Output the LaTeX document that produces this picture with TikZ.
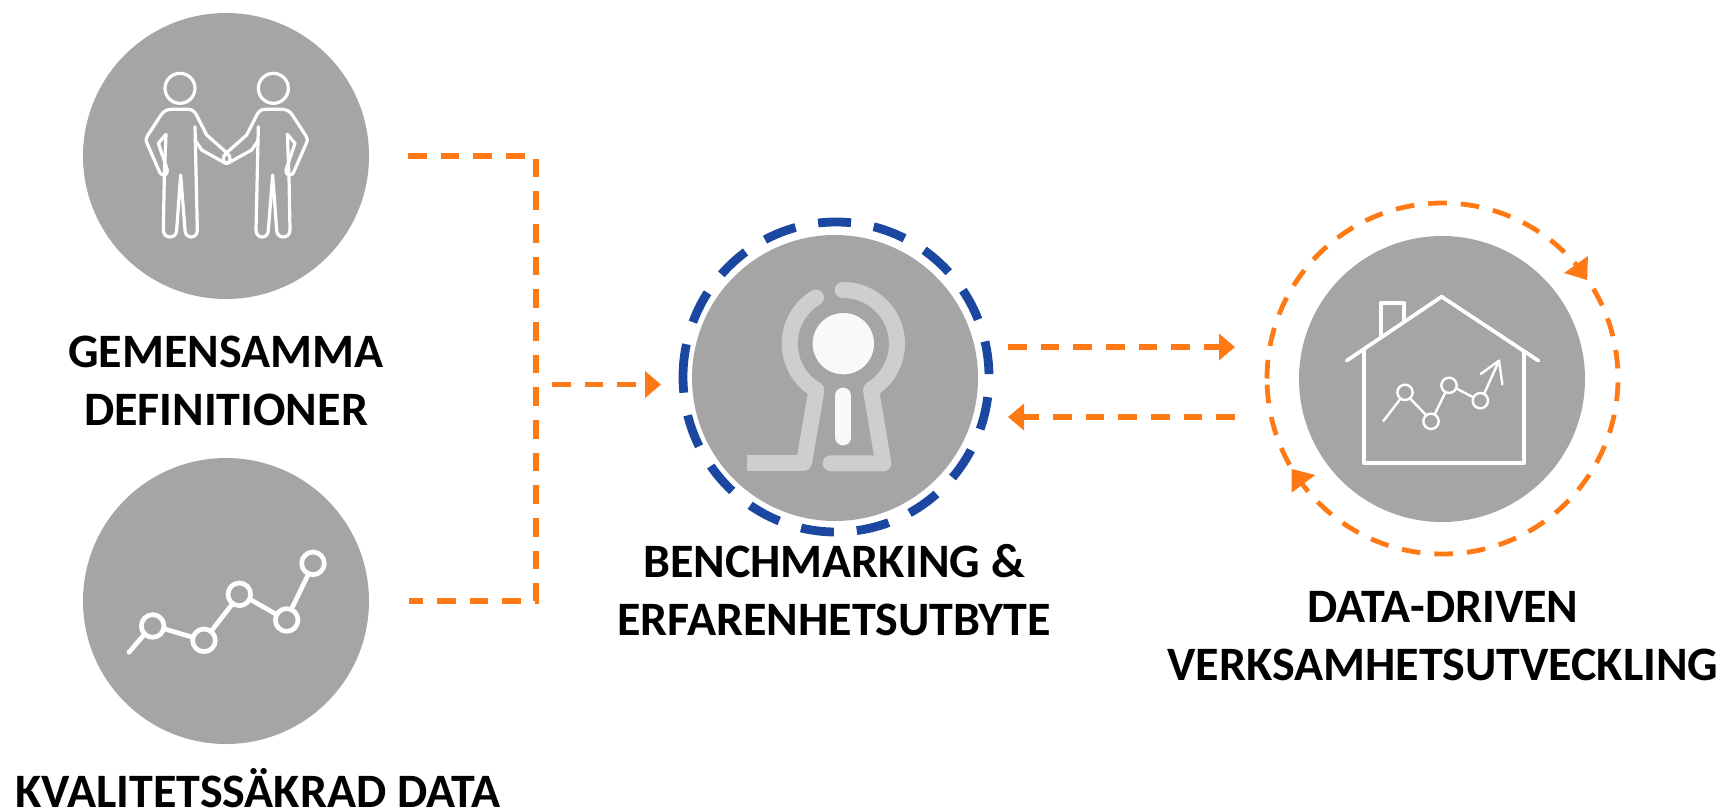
\documentclass[tikz,border=0pt]{standalone}
\usepackage{fontspec}
\setmainfont{Carlito}
\usetikzlibrary{arrows.meta}
\definecolor{disc}{HTML}{A5A5A5}
\definecolor{flow}{HTML}{FF7A14}
\definecolor{ringblue}{HTML}{1C47A0}
\definecolor{keygray}{HTML}{CDCFCE}
\definecolor{keywhite}{HTML}{F9F9F9}
\tikzset{
  discnode/.style={circle,fill=disc,draw=none,minimum size=214.5pt,inner sep=0pt,outer sep=0pt},
  flowline/.style={draw=flow,line width=3.8pt,dash pattern=on 14pt off 10.5pt},
  flowarrow/.style={flowline,-{Triangle[length=12pt,width=19.5pt,fill=flow]}},
  flowhead/.style={fill=flow,draw=none},
  bluering/.style={draw=ringblue,line width=6.6pt,dash pattern=on 24.75pt off 17.25pt},
  orangering/.style={draw=flow,line width=3.6pt,dash pattern=on 14pt off 10.5pt},
  textlabel/.style={font=\fontsize{36pt}{43pt}\selectfont\bfseries,align=center,text=black,inner sep=0pt,outer sep=0pt},
  whiteicon/.style={draw=white,line width=2.4pt,line cap=round,line join=round},
  housebold/.style={draw=white,line width=2.8pt,line cap=round,line join=round},
  housethin/.style={draw=white,line width=1.8pt,line cap=round,line join=round},
  chartline/.style={draw=white,line width=3.5pt,line cap=round,line join=round},
  keyline/.style={draw=keygray,line width=12pt,line join=round},
}
\newcommand{\personshape}{%
  \draw[whiteicon] (360,265) circle[radius=45];
  \draw[whiteicon] (318,403) -- (313,530) -- (310,690) .. controls (310,718) and (350,718) .. (350,690)
     -- (362,525) -- (375,690) .. controls (375,718) and (412,718) .. (412,690) -- (405,380);
  \draw[whiteicon] (318,403) -- (295,430) -- (322,510) .. controls (325,528) and (303,532) .. (297,512)
     -- (262,432) .. controls (256,420) and (258,415) .. (262,408) -- (303,345)
     .. controls (312,332) and (322,328) .. (335,328) -- (385,328)
     .. controls (398,328) and (406,336) .. (412,350) -- (440,405) -- (500,458)
     .. controls (516,470) and (512,490) .. (497,490) -- (425,450) -- (405,420);
}
\begin{document}
\begin{tikzpicture}[x=0.75pt,y=-0.75pt]
\useasboundingbox (0,0) rectangle (1723,811);
\fill[white] (0,0) rectangle (1723,811);

% discs
\node[discnode] (people) at (226,156) {};
\node[discnode] (chart) at (226,601) {};
\node[discnode] (key) at (835,378) {};
\node[discnode] (house) at (1442,379) {};

% rings
\coordinate (keyring) at (836,377);
\coordinate (housering) at (1442.5,378.5);
\draw[bluering] (keyring) ++(-153,0) arc[start angle=180,delta angle=360,x radius=153,y radius=155];
\draw[orangering] (housering) ++(-175.5,0) arc[start angle=180,delta angle=360,radius=175.5];
\coordinate (h1a) at (1588,256); \coordinate (h1b) at (1564,273); \coordinate (h1t) at (1587,280);
\coordinate (h2a) at (1315.3,475); \coordinate (h2b) at (1291.7,492.7); \coordinate (h2t) at (1291.7,469);
\fill[flowhead] (h1a) -- (h1t) -- (h1b) -- cycle;
\fill[flowhead] (h2a) -- (h2t) -- (h2b) -- cycle;

% connectors
\coordinate (peopleout) at (408,156);
\coordinate (chartout) at (409,601);
\coordinate (bendtop) at (536,156);
\coordinate (bendbot) at (536,601);
\coordinate (mergeout) at (552,384.5);
\coordinate (keyin) at (661,384.5);
\coordinate (keyout) at (1008,347);
\coordinate (housein) at (1235,347);
\coordinate (houseout) at (1235,417);
\coordinate (keyback) at (1008,417);
\draw[flowline] (peopleout) -- (bendtop) -- (bendbot) -- (chartout);
\draw[flowarrow] (mergeout) -- (keyin);
\draw[flowarrow] (keyout) -- (housein);
\draw[flowarrow] (houseout) -- (keyback);

% people icon
\begin{scope}[shift={(60,0)},x=0.25pt,y=-0.25pt]
  \personshape
  \begin{scope}[shift={(1000,0)},xscale=-1]
    \personshape
  \end{scope}
\end{scope}

% chart icon
\begin{scope}[shift={(110,530)},x=0.25pt,y=-0.25pt]
  \draw[chartline] (57,367) -- (104,312);
  \draw[chartline] (161,296) -- (249,322);
  \draw[chartline] (303,304) -- (367,222);
  \draw[chartline] (422,209) -- (497,252);
  \draw[chartline] (544,238) -- (596,131);
  \draw[chartline] (128,288) circle[radius=34];
  \draw[chartline] (282,331) circle[radius=34];
  \draw[chartline] (388,193) circle[radius=34];
  \draw[chartline] (530,270) circle[radius=34];
  \draw[chartline] (609,100) circle[radius=34];
\end{scope}

% key icon
\begin{scope}[shift={(600,190)},x=0.25pt,y=-0.25pt]
  \draw[keyline,line cap=round] (730,461) ++(239.3:161) arc[start angle=239.3,delta angle=-119.3,radius=161] -- (612,818);
  \draw[keyline,line cap=butt] (612,818) -- (442,818);
  \draw[keyline,line cap=round] (730,461) ++(-90.7:161) arc[start angle=-90.7,delta angle=149.7,radius=161] -- (850,820) -- (692,820);
  \fill[keywhite] (730,461) circle[radius=92];
  \draw[draw=keywhite,line width=12pt,line cap=round] (730,617) -- (730,742);
\end{scope}

% house icon
\begin{scope}[shift={(1340,190)},x=0.25pt,y=-0.25pt]
  \draw[housebold] (20,512) -- (305,320) -- (595,512);
  \draw[housebold] (72,482) -- (72,818) -- (552,818) -- (552,485);
  \draw[housebold] (122,438) -- (122,340) -- (192,340) -- (192,392);
  \draw[housethin] (130,693) -- (181,627);
  \draw[housethin] (212,627) -- (258,675);
  \draw[housethin] (284,673) -- (316,607);
  \draw[housethin] (350,596) -- (400,622);
  \draw[housethin] (433,610) -- (477,512);
  \draw[housethin] (422,552) -- (477,512) -- (487,583);
  \draw[housethin] (195,607) circle[radius=23];
  \draw[housethin] (273,694) circle[radius=23];
  \draw[housethin] (327,586) circle[radius=23];
  \draw[housethin] (421,632) circle[radius=23];
\end{scope}

% labels
\node[textlabel,anchor=center] (lab1) at (226,381) {GEMENSAMMA\\DEFINITIONER};
\node[textlabel,anchor=center] (lab2) at (258,788) {KVALITETSSÄKRAD DATA};
\node[textlabel,anchor=center] (lab3) at (834,590) {BENCHMARKING \&\\ERFARENHETSUTBYTE};
\node[textlabel,anchor=center] (lab4) at (1443,636) {DATA-DRIVEN\\VERKSAMHETSUTVECKLING};
\end{tikzpicture}
\end{document}
